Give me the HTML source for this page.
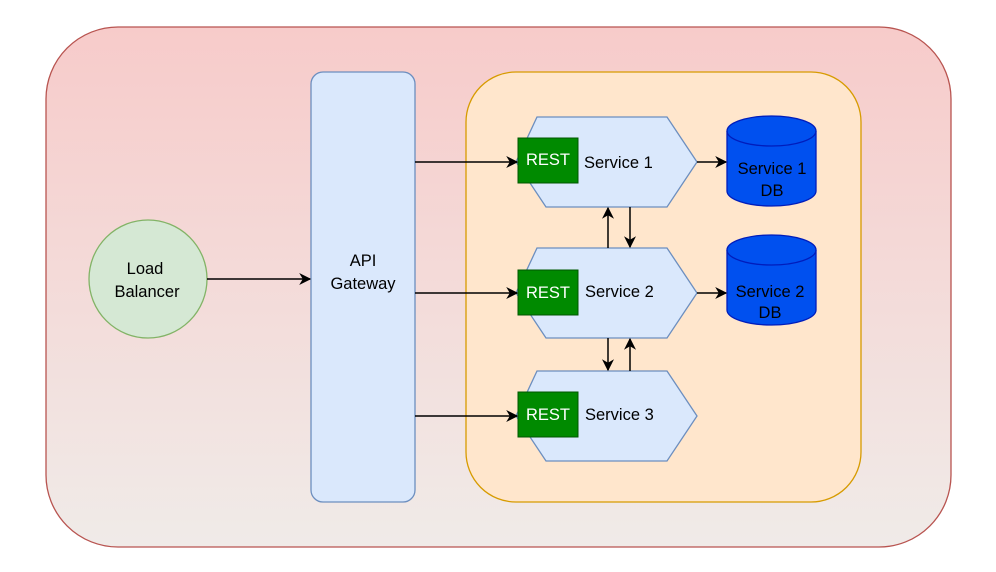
<!DOCTYPE html>
<html><head><meta charset="utf-8"><style>body{margin:0;background:#fff}svg{display:block}</style></head><body>
<svg width="996" height="572" viewBox="0 0 996 572" xmlns="http://www.w3.org/2000/svg" font-family="Liberation Sans, sans-serif">
<defs>
<linearGradient id="g" x1="0" y1="0" x2="0" y2="1"><stop offset="0" stop-color="#f7cbca"/><stop offset="1" stop-color="#f0ebe8"/></linearGradient>
<marker id="a" viewBox="0 0 10 10" refX="9" refY="5" markerWidth="12" markerHeight="12" markerUnits="userSpaceOnUse" orient="auto"><path d="M0,0 L10,5 L0,10 L3,5 Z" fill="#000"/></marker>
</defs>
<rect x="46" y="27" width="905" height="520" rx="72" fill="url(#g)" stroke="#b85450" stroke-width="1.3"/>
<rect x="466" y="72" width="395" height="430" rx="50" fill="#ffe6cc" stroke="#d79b00" stroke-width="1.3"/>
<rect x="311" y="72" width="104" height="430" rx="12" fill="#dae8fc" stroke="#6c8ebf" stroke-width="1.3"/>
<text x="363" y="266" font-size="16.5" text-anchor="middle">API</text>
<text x="363" y="289" font-size="16.5" text-anchor="middle">Gateway</text>
<circle cx="148" cy="279" r="59" fill="#d5e8d4" stroke="#82b366" stroke-width="1.3"/>
<text x="145" y="274" font-size="16.5" text-anchor="middle">Load</text>
<text x="147" y="297" font-size="16.5" text-anchor="middle">Balancer</text>
<g stroke="#6c8ebf" stroke-width="1.3" fill="#dae8fc">
<path d="M537,117 L667,117 L697,162 L667,207 L546,207 L516,162 Z"/>
<path d="M537,248 L667,248 L697,293 L667,338 L546,338 L516,293 Z"/>
<path d="M537,371 L667,371 L697,416 L667,461 L546,461 L516,416 Z"/>
</g>
<g fill="#008a00" stroke="#005700" stroke-width="1">
<rect x="518" y="138" width="60" height="45"/><rect x="518" y="270" width="60" height="45"/><rect x="518" y="392" width="60" height="45"/>
</g>
<g fill="#fff" font-size="16.5" text-anchor="middle"><text x="548" y="165">REST</text><text x="548" y="298">REST</text><text x="548" y="420">REST</text></g>
<g font-size="16.5"><text x="584" y="168">Service 1</text><text x="585" y="297">Service 2</text><text x="585" y="420">Service 3</text></g>
<g fill="#0050ef" stroke="#001dbc" stroke-width="1.3">
<path d="M727,131 A44.5,15 0 0 1 816,131 L816,191 A44.5,15 0 0 1 727,191 Z"/><path d="M727,131 A44.5,15 0 0 0 816,131" fill="none"/>
<path d="M727,250 A44.5,15 0 0 1 816,250 L816,310 A44.5,15 0 0 1 727,310 Z"/><path d="M727,250 A44.5,15 0 0 0 816,250" fill="none"/>
</g>
<g font-size="16.5" text-anchor="middle"><text x="772" y="174">Service 1</text><text x="772" y="196">DB</text><text x="770" y="297">Service 2</text><text x="770" y="318">DB</text></g>
<g stroke="#000" stroke-width="1.5" marker-end="url(#a)">
<line x1="207" y1="279" x2="310" y2="279"/>
<line x1="415" y1="162" x2="517" y2="162"/>
<line x1="415" y1="293" x2="517" y2="293"/>
<line x1="415" y1="416" x2="517" y2="416"/>
<line x1="697" y1="162" x2="726" y2="162"/>
<line x1="697" y1="293" x2="726" y2="293"/>
<line x1="608" y1="248" x2="608" y2="208"/>
<line x1="630" y1="207" x2="630" y2="247"/>
<line x1="608" y1="338" x2="608" y2="370"/>
<line x1="630" y1="371" x2="630" y2="339"/>
</g>
</svg>
</body></html>
